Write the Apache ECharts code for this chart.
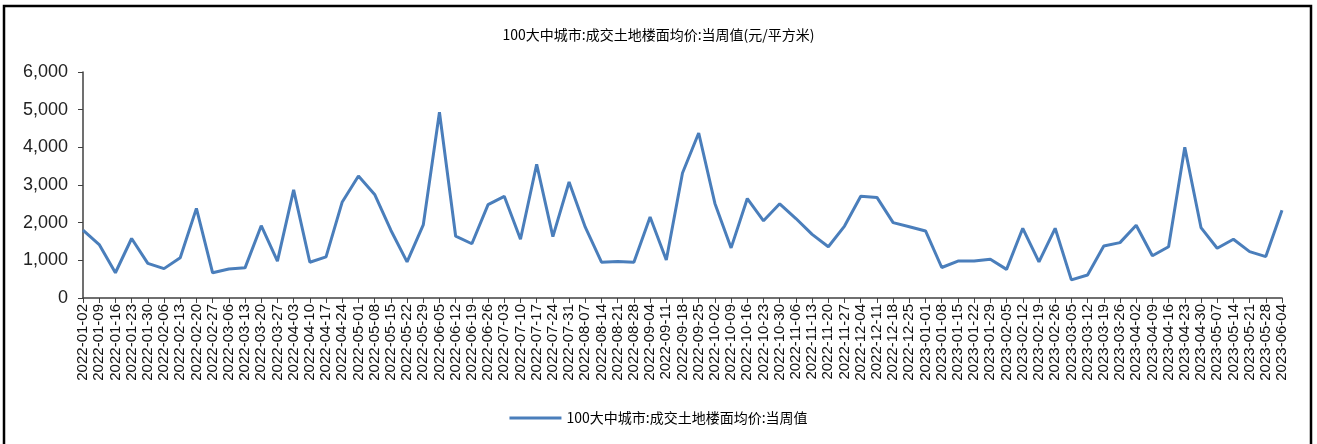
<!DOCTYPE html>
<html><head><meta charset="utf-8">
<script src="https://cdn.jsdelivr.net/npm/echarts@6/dist/echarts.min.js"></script>
<style>html,body{margin:0;padding:0;background:#fff}#c{width:1317px;height:444px}</style>
</head><body><div id="c"></div>
<script>
const categories = [
"2022-01-02","2022-01-09","2022-01-16","2022-01-23","2022-01-30","2022-02-06","2022-02-13","2022-02-20","2022-02-27","2022-03-06",
"2022-03-13","2022-03-20","2022-03-27","2022-04-03","2022-04-10","2022-04-17","2022-04-24","2022-05-01","2022-05-08","2022-05-15",
"2022-05-22","2022-05-29","2022-06-05","2022-06-12","2022-06-19","2022-06-26","2022-07-03","2022-07-10","2022-07-17","2022-07-24",
"2022-07-31","2022-08-07","2022-08-14","2022-08-21","2022-08-28","2022-09-04","2022-09-11","2022-09-18","2022-09-25","2022-10-02",
"2022-10-09","2022-10-16","2022-10-23","2022-10-30","2022-11-06","2022-11-13","2022-11-20","2022-11-27","2022-12-04","2022-12-11",
"2022-12-18","2022-12-25","2023-01-01","2023-01-08","2023-01-15","2023-01-22","2023-01-29","2023-02-05","2023-02-12","2023-02-19",
"2023-02-26","2023-03-05","2023-03-12","2023-03-19","2023-03-26","2023-04-02","2023-04-09","2023-04-16","2023-04-23","2023-04-30",
"2023-05-07","2023-05-14","2023-05-21","2023-05-28","2023-06-04"];
const values = [
1800,1420,670,1580,920,780,1070,2380,670,770,
800,1920,980,2870,950,1090,2550,3240,2750,1800,
960,1940,4930,1640,1440,2480,2700,1560,3550,1630,
3080,1880,950,970,950,2150,1010,3320,4380,2510,
1330,2640,2050,2500,2110,1690,1360,1910,2700,2670,
2000,1890,1780,810,980,980,1030,760,1850,960,
1850,480,610,1380,1470,1930,1120,1360,4000,1870,
1320,1560,1230,1100,2330];
const seriesName = "100大中城市:成交土地楼面均价:当周值";
const titleText = "100大中城市:成交土地楼面均价:当周值(元/平方米)";
const yTicks = [0,1000,2000,3000,4000,5000,6000];

const cjk = '"Noto Sans CJK SC", sans-serif';
const chart = echarts.init(document.getElementById('c'));
chart.setOption({
  animation:false,
  backgroundColor:'#fff',
  graphic:[{type:'rect',shape:{x:4,y:6,width:1307,height:460},style:{fill:'none',stroke:'#000',lineWidth:2.5},z:100}],
  title:{text:titleText,left:'center',top:23,textStyle:{fontFamily:cjk,fontSize:14,fontWeight:'normal',color:'#000'}},
  legend:{bottom:14,left:'center',itemWidth:52,itemHeight:3,itemGap:8,icon:'rect',
    textStyle:{fontFamily:cjk,fontSize:14,color:'#000'},data:[seriesName]},
  grid:{left:83,right:35,top:72,bottom:146,containLabel:false},
  xAxis:{type:'category',data:categories,boundaryGap:false,
    axisLine:{lineStyle:{color:'#404040',width:1.5}},
    axisTick:{show:true,length:5,interval:0,lineStyle:{color:'#404040'}},
    axisLabel:{rotate:90,interval:0,fontFamily:'"Liberation Sans", Arial',fontSize:15,color:'#111',margin:6}},
  yAxis:{type:'value',min:yTicks[0],max:yTicks[yTicks.length-1],interval:1000,
    axisLine:{show:true,lineStyle:{color:'#404040',width:1.5}},
    axisTick:{show:true,length:5,inside:false,lineStyle:{color:'#404040'}},
    splitLine:{show:false},
    axisLabel:{fontFamily:'"Liberation Sans", Arial',fontSize:18,color:'#222',margin:15,
      formatter:v=>v.toLocaleString('en-US')}},
  series:[{name:seriesName,type:'line',data:values,showSymbol:false,symbol:'none',
    lineStyle:{color:'#4A7EBB',width:3},itemStyle:{color:'#4A7EBB'}}]
});
</script></body></html>
